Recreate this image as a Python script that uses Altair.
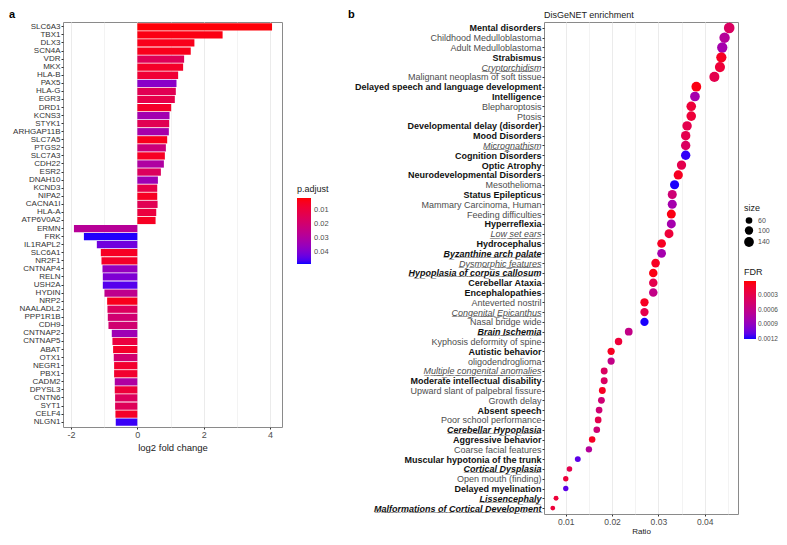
import json
import altair as alt
import pandas as pd

# ---------------- Panel a data ----------------
genes = ["SLC6A3", "TBX1", "DLX3", "SCN4A", "VDR", "MKX", "HLA-B", "PAX5", "HLA-G", "EGR3",
         "DRD1", "KCNS3", "STYK1", "ARHGAP11B", "SLC7A5", "PTGS2", "SLC7A3", "CDH22", "ESR2",
         "DNAH10", "KCND3", "NIPA2", "CACNA1I", "HLA-A", "ATP6V0A2",
         "ERMN", "FRK", "IL1RAPL2", "SLC6A1", "NR2F1", "CNTNAP4", "RELN", "USH2A", "HYDIN",
         "NRP2", "NAALADL2", "PPP1R1B", "CDH9", "CNTNAP2", "CNTNAP5", "ABAT", "OTX1", "NEGR1",
         "PBX1", "CADM2", "DPYSL3", "CNTN6", "SYT1", "CELF4", "NLGN1"]
lfc = [4.06, 2.57, 1.72, 1.61, 1.41, 1.38, 1.23, 1.18, 1.16, 1.13,
       1.02, 0.97, 0.96, 0.95, 0.90, 0.86, 0.83, 0.80, 0.71,
       0.62, 0.60, 0.60, 0.61, 0.57, 0.55,
       -1.91, -1.61, -1.22, -1.10, -1.08, -1.05, -1.04, -1.04, -0.99,
       -0.91, -0.90, -0.89, -0.87, -0.77, -0.75, -0.73, -0.71, -0.70,
       -0.70, -0.68, -0.68, -0.67, -0.67, -0.66, -0.65]
padj = [0.002, 0.003, 0.004, 0.004, 0.015, 0.006, 0.008, 0.038, 0.014, 0.012,
        0.006, 0.033, 0.014, 0.032, 0.004, 0.022, 0.005, 0.030, 0.016,
        0.034, 0.012, 0.005, 0.014, 0.010, 0.005,
        0.028, 0.048, 0.042, 0.005, 0.006, 0.036, 0.040, 0.045, 0.026,
        0.004, 0.016, 0.020, 0.020, 0.034, 0.010, 0.006, 0.020, 0.007,
        0.007, 0.030, 0.009, 0.016, 0.015, 0.006, 0.047]

# ---------------- Panel b data ----------------
terms = ["Mental disorders", "Childhood Medulloblastoma", "Adult Medulloblastoma", "Strabismus",
         "Cryptorchidism", "Malignant neoplasm of soft tissue",
         "Delayed speech and language development", "Intelligence", "Blepharoptosis", "Ptosis",
         "Developmental delay (disorder)", "Mood Disorders", "Micrognathism", "Cognition Disorders",
         "Optic Atrophy", "Neurodevelopmental Disorders", "Mesothelioma", "Status Epilepticus",
         "Mammary Carcinoma, Human", "Feeding difficulties", "Hyperreflexia", "Low set ears",
         "Hydrocephalus", "Byzanthine arch palate", "Dysmorphic features",
         "Hypoplasia of corpus callosum", "Cerebellar Ataxia", "Encephalopathies",
         "Anteverted nostril", "Congenital Epicanthus", "Nasal bridge wide", "Brain Ischemia",
         "Kyphosis deformity of spine", "Autistic behavior", "oligodendroglioma",
         "Multiple congenital anomalies", "Moderate intellectual disability",
         "Upward slant of palpebral fissure", "Growth delay", "Absent speech",
         "Poor school performance", "Cerebellar Hypoplasia", "Aggressive behavior",
         "Coarse facial features", "Muscular hypotonia of the trunk", "Cortical Dysplasia",
         "Open mouth (finding)", "Delayed myelination", "Lissencephaly",
         "Malformations of Cortical Development"]
ratio = [0.0453, 0.0443, 0.0438, 0.0436, 0.0433, 0.0421, 0.0382, 0.0379, 0.0371, 0.0371,
         0.0362, 0.0359, 0.0359, 0.0359, 0.0350, 0.0343, 0.0335, 0.0330, 0.0330, 0.0328,
         0.0328, 0.0323, 0.0307, 0.0307, 0.0294, 0.0289, 0.0289, 0.0289, 0.0270, 0.0270,
         0.0270, 0.0236, 0.0214, 0.0198, 0.0198, 0.0183, 0.0183, 0.0179, 0.0177, 0.0172,
         0.0170, 0.0167, 0.0157, 0.0150, 0.0126, 0.0108, 0.0100, 0.0100, 0.0079, 0.0072]
fdr = [0.0004, 0.0007, 0.0008, 0.0001, 0.0002, 0.0003, 0.00005, 0.0008, 0.0002, 0.0002,
       0.0003, 0.0003, 0.0004, 0.00118, 0.0003, 0.0001, 0.0012, 0.0005, 0.0008, 0.00005,
       0.0008, 0.0002, 0.0001, 0.0008, 0.0001, 0.00005, 0.0003, 0.0006, 0.0001, 0.0003,
       0.0012, 0.0006, 0.0002, 0.0001, 0.0006, 0.0004, 0.0004, 0.0001, 0.0005, 0.0005,
       0.0003, 0.0005, 0.0001, 0.0007, 0.0011, 0.0003, 0.0002, 0.0011, 0.0002, 0.0002]
gene_count = [168, 160, 158, 155, 152, 148, 140, 138, 135, 135,
              130, 129, 129, 128, 126, 124, 121, 120, 119, 118,
              118, 116, 110, 110, 106, 104, 104, 104, 98, 98,
              98, 85, 78, 72, 72, 66, 66, 65, 64, 62,
              61, 60, 57, 54, 46, 39, 36, 35, 29, 26]

bold_terms = ["Mental disorders", "Strabismus", "Delayed speech and language development",
              "Intelligence", "Developmental delay (disorder)", "Mood Disorders",
              "Cognition Disorders", "Optic Atrophy", "Neurodevelopmental Disorders",
              "Status Epilepticus", "Hyperreflexia", "Hydrocephalus", "Byzanthine arch palate",
              "Hypoplasia of corpus callosum", "Cerebellar Ataxia", "Encephalopathies",
              "Brain Ischemia", "Autistic behavior", "Moderate intellectual disability",
              "Absent speech", "Cerebellar Hypoplasia", "Aggressive behavior",
              "Muscular hypotonia of the trunk", "Cortical Dysplasia", "Delayed myelination",
              "Lissencephaly", "Malformations of Cortical Development"]
underlined_terms = ["Cryptorchidism", "Micrognathism", "Low set ears", "Byzanthine arch palate",
                    "Dysmorphic features", "Hypoplasia of corpus callosum",
                    "Congenital Epicanthus", "Brain Ischemia", "Multiple congenital anomalies",
                    "Cerebellar Hypoplasia", "Cortical Dysplasia", "Lissencephaly",
                    "Malformations of Cortical Development"]

FONT = "Liberation Sans"
A_W, A_H = 219, 405
B_W, B_H = 194, 492

df_a = pd.DataFrame({"gene": genes, "lfc": lfc, "padj": padj})
df_b = pd.DataFrame({"term": terms, "ratio": ratio, "fdr": fdr, "count": gene_count})

# ---------------- Panel a ----------------
bars = alt.Chart(df_a).mark_bar().encode(
    x=alt.X("lfc:Q",
            scale=alt.Scale(domain=[-2.24, 4.36], nice=False),
            axis=alt.Axis(values=[-2, -1, 0, 1, 2, 3, 4],
                          labelExpr="datum.value % 2 == 0 ? '' + datum.value : ''",
                          tickOpacity={"condition": {"test": "datum.value % 2 != 0", "value": 0}, "value": 1},
                          gridWidth={"condition": {"test": "datum.value % 2 != 0", "value": 0.6}, "value": 1},
                          title="log2 fold change", titleFontSize=9.5, labelFontSize=9,
                          titlePadding=3)),
    x2=alt.datum(0),
    y=alt.Y("gene:N", sort=genes,
            scale=alt.Scale(paddingInner=0.1, paddingOuter=0.15),
            axis=alt.Axis(title=None, bandPosition=0.5, labelFontSize=8, labelColor="#333333")),
    color=alt.Color("padj:Q",
                    scale=alt.Scale(domain=[0.0486, 0.0014], range=["blue", "red"], interpolate="lab"),
                    legend=alt.Legend(title="p.adjust", orient="none", legendX=234, legendY=163,
                                      direction="vertical", gradientLength=66, gradientThickness=14,
                                      values=[0.01, 0.02, 0.03, 0.04], format=".2f",
                                      titleFontSize=9, titleFontWeight="normal", titleColor="#1a1a1a",
                                      labelFontSize=7.5, labelColor="#4d4d4d", labelOffset=3,
                                      titlePadding=4, gradientStrokeWidth=0)),
)
lab_a = alt.Chart(pd.DataFrame({"t": ["a"]})).mark_text(
    fontSize=11, fontWeight="bold", align="left", baseline="middle", color="black"
).encode(text="t:N", x=alt.value(-54), y=alt.value(-7))
chart_a = alt.layer(bars, lab_a).properties(width=A_W, height=A_H)

# ---------------- Panel b ----------------
bold_test = "indexof(" + json.dumps(bold_terms) + ", datum.value) >= 0"
ul_test = "indexof(" + json.dumps(underlined_terms) + ", datum.value) >= 0"
major_test = "abs(datum.value * 100 - round(datum.value * 100)) < 0.001"

dots = alt.Chart(df_b).mark_circle(opacity=1, color="black").encode(
    x=alt.X("ratio:Q",
            scale=alt.Scale(domain=[0.0053, 0.0472], nice=False, zero=False),
            axis=alt.Axis(values=[0.01, 0.015, 0.02, 0.025, 0.03, 0.035, 0.04, 0.045],
                          labelExpr=major_test + " ? format(datum.value, '.2f') : ''",
                          tickOpacity={"condition": {"test": major_test, "value": 1}, "value": 0},
                          gridWidth={"condition": {"test": major_test, "value": 1}, "value": 0.6},
                          title="Ratio", titleFontSize=8, labelFontSize=8.5, titlePadding=2)),
    y=alt.Y("term:N", sort=terms,
            scale=alt.Scale(type="point", padding=0.6),
            axis=alt.Axis(title=None, labelFontSize=9, labelLimit=320,
                          labelFontWeight={"condition": {"test": bold_test, "value": "bold"}, "value": "normal"},
                          labelFontStyle={"condition": {"test": ul_test, "value": "italic"}, "value": "normal"},
                          labelColor={"condition": {"test": bold_test, "value": "#111111"}, "value": "#4d4d4d"},
                          labelExpr=ul_test + " ? replace(datum.label, regexp('(.)', 'g'), '$1\u0332') : datum.label")),
    color=alt.Color("fdr:Q",
                    scale=alt.Scale(domain=[0.00121, 0.00001], range=["blue", "red"], interpolate="lab"),
                    legend=alt.Legend(title="FDR", orient="none", legendX=200, legendY=246,
                                      direction="vertical", gradientLength=58, gradientThickness=12,
                                      values=[0.0003, 0.0006, 0.0009, 0.0012], format=".4f",
                                      titleFontSize=9, titleFontWeight="normal", titleColor="#1a1a1a",
                                      labelFontSize=6.5, labelColor="#4d4d4d", labelOffset=2,
                                      titlePadding=4, gradientStrokeWidth=0)),
    size=alt.Size("count:Q",
                  scale=alt.Scale(domain=[0, 180], range=[6, 121]),
                  legend=alt.Legend(title="size", orient="none", legendX=200, legendY=182,
                                    values=[60, 100, 140], symbolType="circle",
                                    symbolFillColor="black", symbolStrokeWidth=0,
                                    titleFontSize=9, titleFontWeight="normal", titleColor="#1a1a1a",
                                    labelFontSize=7, labelColor="#4d4d4d", titlePadding=4)),
)
lab_b = alt.Chart(pd.DataFrame({"t": ["b"]})).mark_text(
    fontSize=11, fontWeight="bold", align="left", baseline="middle", color="black"
).encode(text="t:N", x=alt.value(-196), y=alt.value(-7))
title_b = alt.Chart(pd.DataFrame({"t": ["DisGeNET enrichment"]})).mark_text(
    fontSize=9, align="left", baseline="middle", color="#1a1a1a"
).encode(text="t:N", x=alt.value(0), y=alt.value(-7))
chart_b = alt.layer(dots, lab_b, title_b).properties(width=B_W, height=B_H)

chart = alt.hconcat(chart_a, chart_b, spacing=262, bounds="flush", padding=0).resolve_scale(
    color="independent", size="independent", x="independent", y="independent"
).configure(font=FONT).configure_view(
    stroke="#8a8a8a", strokeWidth=1
).configure_axis(
    gridColor="#ebebeb", tickColor="#333333", labelColor="#4d4d4d", domain=False,
    tickSize=2, labelPadding=1, titleColor="#1a1a1a", titleFontWeight="normal",
    labelFont=FONT, titleFont=FONT
).configure_legend(labelFont=FONT, titleFont=FONT)

chart.save("out.html", embed_options={"renderer": "svg", "actions": False})
